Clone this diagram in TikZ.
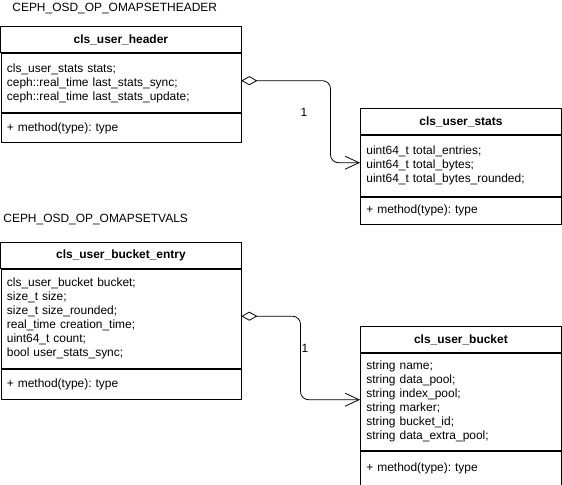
\documentclass[tikz,border=0pt]{standalone}
\usepackage{fontspec}
\setmainfont{Liberation Sans}
\usetikzlibrary{positioning,arrows.meta,calc}
\frenchspacing
\tikzstyle{uml}=[
  x=1bp,y=-1bp,line width=0.8bp,font=\fontsize{12}{14}\selectfont
]
\tikzstyle{clsname}=[
  draw,rectangle,inner sep=0pt,minimum height=26bp,font=\fontsize{12}{14}\selectfont\bfseries
]
\tikzstyle{clsbody}=[
  draw,rectangle,inner xsep=6bp,inner ysep=0pt,align=left
]
\tikzstyle{optitle}=[
  inner sep=0pt,anchor=west
]
\tikzstyle{aggr}=[
  rounded corners=8bp,{Diamond[open,length=16bp,width=9bp]}-{Straight Barb[length=14bp,width=13bp]}
]

\begin{document}
\begin{tikzpicture}[uml]
    \useasboundingbox (0,0) rectangle (562,485);
    \def\wl{240bp}
    \def\wr{201bp}
    % CEPH_OSD_OP_OMAPSETHEADER
    \node (t1) at (12,9) [optitle] {CEPH\_OSD\_OP\_OMAPSETHEADER};
    \node (hname) at (0.5,26.5) [clsname,anchor=north west,minimum width=\wl] {cls\_user\_header};
    \node (hattr) [clsbody,below=0pt of hname,text width=228bp,minimum height=59bp]
      {cls\_user\_stats stats;\\ceph::real\_time last\_stats\_sync;\\ceph::real\_time last\_stats\_update;};
    \node (hmeth) [clsbody,below=0pt of hattr,text width=228bp,minimum height=29bp] {+ method(type): type};
    \node (sname) at (360,108) [clsname,anchor=north west,minimum width=\wr] {cls\_user\_stats};
    \node (sattr) [clsbody,below=0pt of sname,text width=189bp,minimum height=61bp]
      {uint64\_t total\_entries;\\uint64\_t total\_bytes;\\uint64\_t total\_bytes\_rounded;};
    \node (smeth) [clsbody,below=0pt of sattr,text width=189bp,minimum height=27bp] {+ method(type): type};
    \coordinate (bend1) at (330.5,120);
    \draw [aggr] ([yshift=2.5bp]hattr.east) -| (bend1) |- ([yshift=3bp]sattr.west);
    \node (m1) at (304,112) {1};
    % CEPH_OSD_OP_OMAPSETVALS
    \node (t2) at (3,220) [optitle] {CEPH\_OSD\_OP\_OMAPSETVALS};
    \node (ename) at (0.5,242) [clsname,anchor=north west,minimum width=\wl] {cls\_user\_bucket\_entry};
    \node (eattr) [clsbody,below=0pt of ename,text width=228bp,minimum height=99bp]
      {cls\_user\_bucket bucket;\\size\_t size;\\size\_t size\_rounded;\\real\_time creation\_time;\\uint64\_t count;\\bool user\_stats\_sync;};
    \node (emeth) [clsbody,below=0pt of eattr,text width=228bp,minimum height=30bp] {+ method(type): type};
    \node (bname) at (360,326) [clsname,anchor=north west,minimum width=\wr] {cls\_user\_bucket};
    \node (battr) [clsbody,below=0pt of bname,text width=189bp,minimum height=97bp]
      {string name;\\string data\_pool;\\string index\_pool;\\string marker;\\string bucket\_id;\\string data\_extra\_pool;};
    \node (bmeth) [clsbody,below=0pt of battr,text width=189bp,minimum height=34bp] {+ method(type): type};
    \coordinate (bend2) at (300.5,350);
    \draw [aggr] ([yshift=2.5bp]eattr.east) -| (bend2) |- ([yshift=2bp]battr.west);
    \node (m2) at (305,348) {1};
\end{tikzpicture}
\end{document}
